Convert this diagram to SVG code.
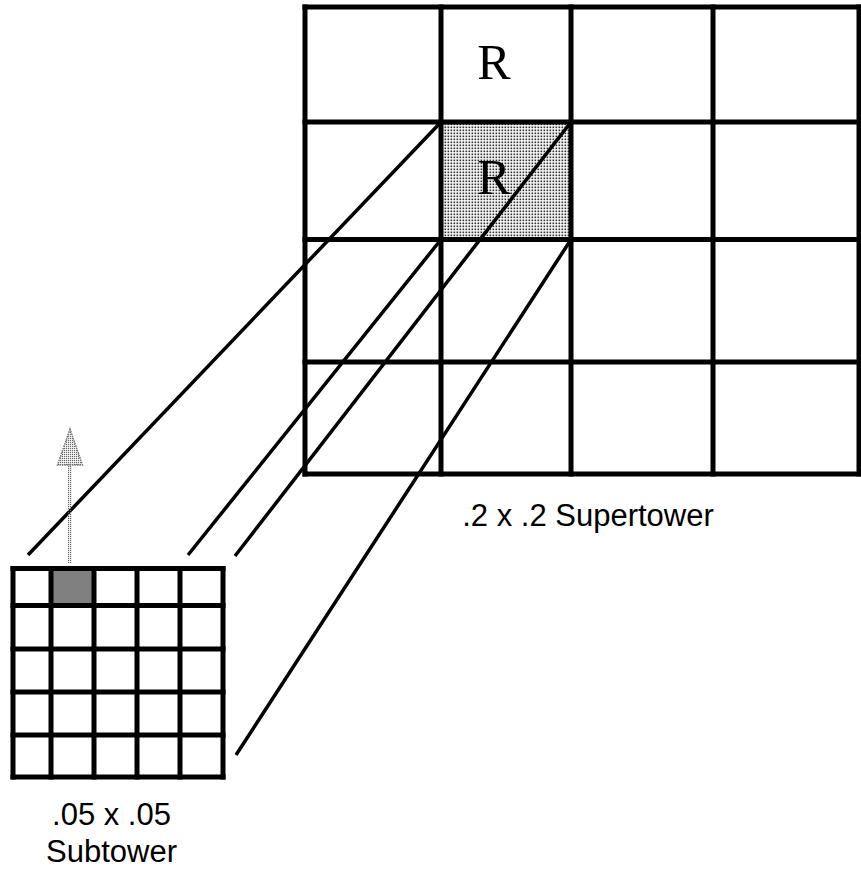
<svg xmlns="http://www.w3.org/2000/svg" width="861" height="869" viewBox="0 0 861 869">
  <defs>
    <pattern id="stipple" width="3" height="3" patternUnits="userSpaceOnUse">
      <rect x="0.5" y="0.5" width="1.7" height="1.7" fill="#333"/>
    </pattern>
    <pattern id="dotsGrey" width="2" height="2" patternUnits="userSpaceOnUse">
      <rect x="0" y="0" width="1.2" height="1.2" fill="#666"/>
    </pattern>
    <style>
      .grid { stroke: #000; stroke-width: 5; fill: none; stroke-linecap: square; }
      .conn { stroke: #000; stroke-width: 3.5; fill: none; }
      .mono { font-family: "Liberation Serif", "Times New Roman", serif; font-size: 50px; fill: #000; }
      .lbl { font-family: "Liberation Sans", Arial, sans-serif; font-size: 31px; fill: #000; }
    </style>
  </defs>
  <rect width="861" height="869" fill="#fff"/>

  <g id="supertower">
    <rect x="441" y="122" width="130" height="117.5" fill="url(#stipple)"/>
    <g class="grid">
      <line x1="305" y1="7" x2="305" y2="474"/>
      <line x1="441" y1="7" x2="441" y2="474"/>
      <line x1="571" y1="7" x2="571" y2="474"/>
      <line x1="713" y1="7" x2="713" y2="474"/>
      <line x1="859" y1="7" x2="859" y2="474"/>
      <line x1="305" y1="7" x2="859" y2="7"/>
      <line x1="305" y1="122" x2="859" y2="122"/>
      <line x1="305" y1="239.5" x2="859" y2="239.5"/>
      <line x1="305" y1="362" x2="859" y2="362"/>
      <line x1="305" y1="474" x2="859" y2="474"/>
    </g>
    <text class="mono" x="494" y="79" text-anchor="middle">R</text>
    <text class="mono" x="494" y="194" text-anchor="middle">R</text>
    <text class="lbl" x="588" y="526" text-anchor="middle">.2 x .2 Supertower</text>
  </g>

  <g id="subtower">
    <rect x="53" y="571" width="39" height="34" fill="#808080"/>
    <g class="grid">
      <line x1="13" y1="568.5" x2="13" y2="777"/>
      <line x1="51" y1="568.5" x2="51" y2="777"/>
      <line x1="94" y1="568.5" x2="94" y2="777"/>
      <line x1="137" y1="568.5" x2="137" y2="777"/>
      <line x1="180" y1="568.5" x2="180" y2="777"/>
      <line x1="223" y1="568.5" x2="223" y2="777"/>
      <line x1="13" y1="568.5" x2="223" y2="568.5"/>
      <line x1="13" y1="605.5" x2="223" y2="605.5"/>
      <line x1="13" y1="649" x2="223" y2="649"/>
      <line x1="13" y1="692" x2="223" y2="692"/>
      <line x1="13" y1="735" x2="223" y2="735"/>
      <line x1="13" y1="777" x2="223" y2="777"/>
    </g>
    <text class="lbl" x="111.5" y="825" text-anchor="middle">.05 x .05</text>
    <text class="lbl" x="111.5" y="862" text-anchor="middle">Subtower</text>
  </g>

  <g id="connectors">
    <line class="conn" x1="441" y1="122" x2="28" y2="555"/>
    <line class="conn" x1="441" y1="239.5" x2="188" y2="555"/>
    <line class="conn" x1="571" y1="122" x2="235" y2="556"/>
    <line class="conn" x1="571" y1="239.5" x2="236" y2="755"/>
  </g>

  <g id="arrow">
    <rect x="68" y="463" width="4" height="100" fill="url(#dotsGrey)"/>
    <polygon points="70,429 57.5,465 82.5,465" fill="url(#dotsGrey)" stroke="#777" stroke-width="1.5" stroke-dasharray="1.5 1"/>
  </g>
</svg>
